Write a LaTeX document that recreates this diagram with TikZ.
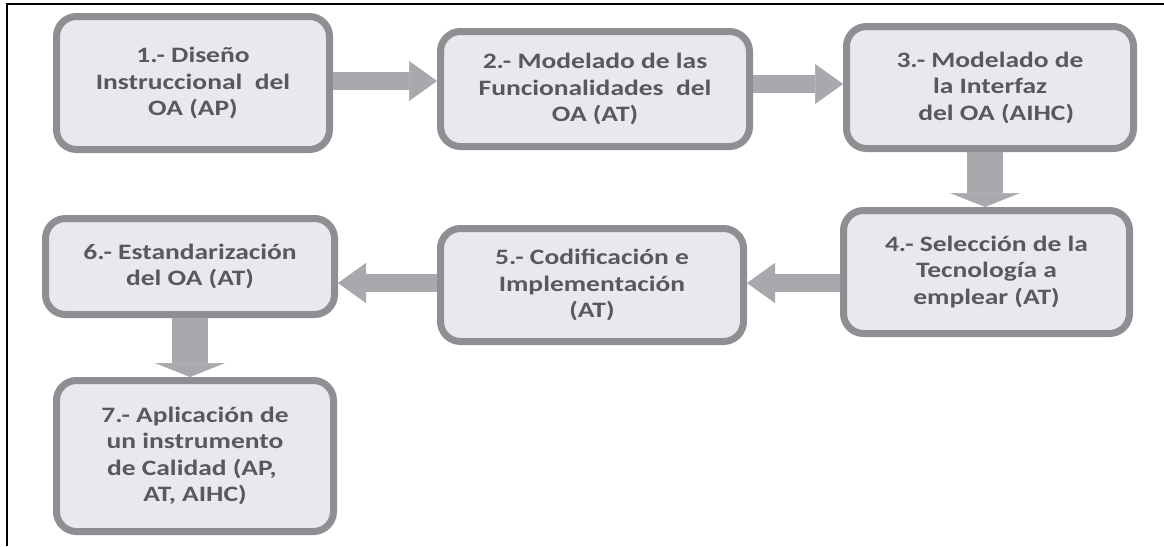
\documentclass[tikz,border=0pt]{standalone}
\usepackage{fontspec}
\setmainfont{Carlito}[FakeStretch=1.25]
\usetikzlibrary{arrows.meta}
\definecolor{boxfill}{HTML}{E8E9EC}
\definecolor{boxline}{HTML}{8E8F93}
\definecolor{arrowfill}{HTML}{A8A9AC}
\definecolor{txtgray}{HTML}{58595B}
\begin{document}
\begin{tikzpicture}[x=1pt,y=-1pt,
  stepbox/.style={draw=boxline, fill=boxfill, line width=7pt, rounded corners=20pt,
    align=center, inner sep=0pt, text=txtgray,
    font=\fontsize{22}{26.5}\selectfont\bfseries},
  harrow/.style={draw=arrowfill, line width=18pt,
    -{Triangle[length=28pt,width=40pt,line width=0.5pt]}},
  varrow/.style={draw=arrowfill, line width=36pt,
    -{Triangle[length=14pt,width=70pt,line width=0.5pt]}}]
\useasboundingbox (0,0) rectangle (1164,546);
\fill[white] (0,0) rectangle (1164,546);
\draw[line width=2pt, black] (7,546) -- (7,4) -- (1164,4);

\node[stepbox, minimum width=273pt, minimum height=133pt] (b1) at (193,83)
  {1.- Diseño\\Instruccional\ \ del\\OA (AP)};
\node[stepbox, minimum width=309pt, minimum height=115pt] (b2) at (595,89)
  {2.- Modelado de las\\Funcionalidades\ \ del\\OA (AT)};
\node[stepbox, minimum width=287pt, minimum height=122pt] (b3) at (990,87.5)
  {3.- Modelado de\\la Interfaz\\\ \ del OA (AIHC)};
\node[stepbox, minimum width=286pt, minimum height=123pt] (b4) at (986.5,272)
  {4.- Selección de la\\Tecnología a\\emplear (AT)};
\node[stepbox, minimum width=303pt, minimum height=113pt] (b5) at (592,285)
  {5.- Codificación e\\Implementación\\(AT)};
\node[stepbox, minimum width=289pt, minimum height=96pt] (b6) at (190,266.5)
  {6.- Estandarización\\del OA (AT)};
\node[stepbox, minimum width=277pt, minimum height=151pt] (b7) at (195,456)
  {7.- Aplicación de\\un instrumento\\de Calidad (AP,\ \ \ \\AT, AIHC)};

\draw[harrow] ([yshift=2pt]b1.east) -- ([yshift=2pt]b1.east -| b2.west);
\draw[harrow] ([yshift=5pt]b2.east) -- ([yshift=5pt]b2.east -| b3.west);
\draw[varrow] ([xshift=-5pt]b3.south) -- ([xshift=-5pt]b3.south |- b4.north);
\draw[harrow] ([yshift=2pt]b5.east -| b4.west) -- ([yshift=2pt]b5.east);
\draw[harrow] ([yshift=2pt]b5.west) -- ([yshift=2pt]b5.west -| b6.east);
\draw[varrow] (b6.south) -- (b6.south |- b7.north);
\end{tikzpicture}
\end{document}
